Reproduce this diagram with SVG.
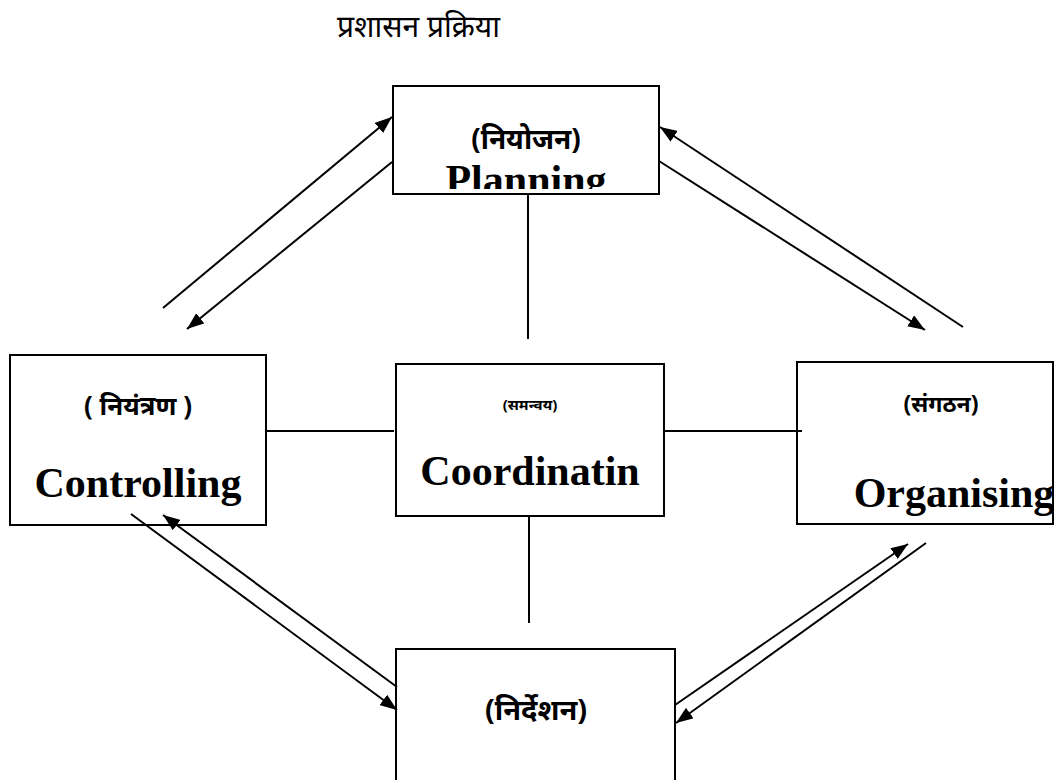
<svg xmlns="http://www.w3.org/2000/svg" width="1054" height="780" viewBox="0 0 1054 780">
  <style>
    .box { fill: #fff; stroke: #000; stroke-width: 2; }
    .link { stroke: #000; stroke-width: 2; fill: none; }
    .arrow { stroke: #000; stroke-width: 2; fill: none; marker-end: url(#head); }
    .hi { font-family: "Noto Sans", "Liberation Sans", sans-serif; font-weight: bold; font-size: 22px; text-anchor: middle; fill: #000; }
    .en { font-family: "Liberation Serif", "Times New Roman", serif; font-weight: bold; font-size: 42px; text-anchor: middle; fill: #000; }
    .title { font-family: "Noto Sans", "Liberation Sans", sans-serif; font-size: 30px; fill: #000; }
  </style>
  <defs>
    <marker id="head" markerUnits="userSpaceOnUse" markerWidth="17" markerHeight="13" refX="17" refY="6.5" orient="auto">
      <path d="M0,0 L17,6.5 L0,13 z" fill="#000"/>
    </marker>
    <clipPath id="clipPlanning">
      <rect x="394" y="87" width="264" height="102"/>
    </clipPath>
  </defs>

  <rect width="1054" height="780" fill="#fff"/>

  <text class="title" x="337" y="37">प्रशासन प्रक्रिया</text>

  <g id="planning">
    <rect class="box" x="393" y="86" width="266" height="108"/>
    <text class="hi" x="526" y="149" style="font-size:28px">(नियोजन)</text>
    <g clip-path="url(#clipPlanning)">
      <text class="en" x="526" y="194" font-size="34">Planning</text>
    </g>
  </g>

  <g id="controlling">
    <rect class="box" x="10" y="355" width="256" height="170"/>
    <text class="hi" x="138" y="415" style="font-size:26px">( नियंत्रण )</text>
    <text class="en" x="138" y="497">Controlling</text>
  </g>

  <g id="coordination">
    <rect class="box" x="396" y="364" width="268" height="152"/>
    <text class="hi" x="530" y="410" style="font-size:15px">(समन्वय)</text>
    <text class="en" x="530" y="485">Coordinatin</text>
  </g>

  <g id="organising">
    <rect class="box" x="797" y="362" width="256" height="162"/>
    <text class="hi" x="941" y="412" style="font-size:23px">(संगठन)</text>
    <text class="en" x="954" y="507">Organising</text>
  </g>

  <g id="directing">
    <rect class="box" x="396" y="649" width="279" height="140"/>
    <text class="hi" x="536" y="720" style="font-size:29px">(निर्देशन)</text>
  </g>

  <!-- connectors drawn over the boxes, so line ends inside a frame stay visible -->
  <g id="connectors">
    <line class="link" x1="528" y1="194" x2="528" y2="339"/>
    <line class="link" x1="529" y1="516" x2="529" y2="623"/>
    <line class="link" x1="266" y1="431" x2="394" y2="431"/>
    <line class="link" x1="664" y1="431" x2="802" y2="431"/>

    <line class="arrow" x1="163" y1="308" x2="392" y2="117"/>
    <line class="arrow" x1="392" y1="162" x2="187" y2="329"/>

    <line class="arrow" x1="963" y1="327" x2="660" y2="127"/>
    <line class="arrow" x1="659" y1="161" x2="925" y2="330"/>

    <line class="arrow" x1="131" y1="514" x2="397" y2="710"/>
    <line class="arrow" x1="397" y1="687" x2="163" y2="515"/>

    <line class="arrow" x1="675" y1="705" x2="908" y2="544"/>
    <line class="arrow" x1="926" y1="543" x2="676" y2="723"/>
  </g>
</svg>
